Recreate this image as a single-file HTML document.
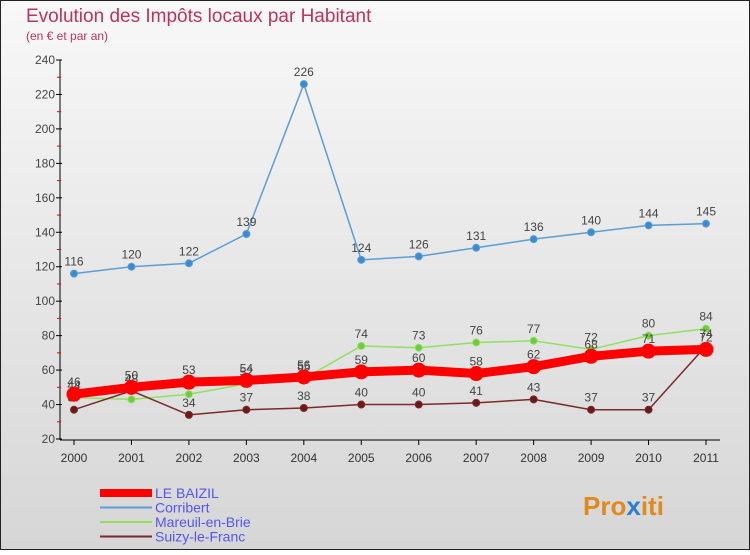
<!DOCTYPE html>
<html><head><meta charset="utf-8"><style>
body{margin:0;width:750px;height:550px;overflow:hidden;font-family:"Liberation Sans",sans-serif}
</style></head><body>
<svg width="750" height="550" xmlns="http://www.w3.org/2000/svg">
<defs><linearGradient id="bg" x1="0" y1="0" x2="0" y2="1"><stop offset="0" stop-color="#f8f8f8"/><stop offset="1" stop-color="#d6d6d6"/></linearGradient></defs>
<rect x="0.5" y="0.5" width="749" height="549" fill="url(#bg)" stroke="#222"/>
<text x="26" y="22" font-size="19" fill="#c0325a">Evolution des Impôts locaux par Habitant</text>
<text x="26" y="40" font-size="12" fill="#c0325a">(en € et par an)</text>
<g id="axes"></g><g id="series"></g><g id="legend"></g>
<text x="583" y="515" font-size="26" font-weight="bold" fill="#e08a1e">Pro<tspan fill="#2a7fd4">x</tspan>iti</text>
</svg>
<script>
const years=[2000,2001,2002,2003,2004,2005,2006,2007,2008,2009,2010,2011];
const yTicks=[20,40,60,80,100,120,140,160,180,200,220,240];
const baizil=[46,50,53,54,56,59,60,58,62,68,71,72];
const corribert=[116,120,122,139,226,124,126,131,136,140,144,145];
const mareuil=[44,43,46,52,55,74,73,76,77,72,80,84];
const suizy=[37,48,34,37,38,40,40,41,43,37,37,74];
const NS="http://www.w3.org/2000/svg";
const X=i=>74+i*(706-74)/11;
const Y=v=>439-(v-20)*(439-60)/220;
function mk(t,a,p){const e=document.createElementNS(NS,t);for(const k in a)e.setAttribute(k,a[k]);(p||document.getElementById('axes')).appendChild(e);return e;}
const ax=document.getElementById('axes');
let l=mk('line',{x1:60,y1:60,x2:60,y2:440,stroke:'#000'});


l=mk('line',{x1:60,y1:440,x2:720,y2:440,stroke:'#000'});


yTicks.forEach((v,i)=>{
 mk('line',{x1:56,y1:Y(v),x2:62,y2:Y(v),stroke:'#000'});
 if(i<yTicks.length-1)mk('line',{x1:57,y1:Y(v+10),x2:61,y2:Y(v+10),stroke:'#e00'});
 const t=mk('text',{x:55,y:Y(v)+4,'font-size':12,fill:'#444','text-anchor':'end'});t.textContent=v;
 
 
});
years.forEach((yr,i)=>{
 mk('line',{x1:X(i),y1:440,x2:X(i),y2:445,stroke:'#000'});
 const t=mk('text',{x:X(i),y:462,'font-size':12,fill:'#333','text-anchor':'middle'});t.textContent=yr;
 
 
});
const S=document.getElementById('series');
function series(vals,color,w,r,name,ptc){
 const g=mk('g',{},S);
 
 
 mk('polyline',{points:vals.map((v,i)=>X(i)+','+Y(v)).join(' '),fill:'none',stroke:color,'stroke-width':w,'stroke-linejoin':'round'},g);
 vals.forEach((v,i)=>{
  const c=mk('circle',{cx:X(i),cy:Y(v),r:r,fill:ptc,stroke:color,'stroke-width':1},g);
  
  
  const t=mk('text',{x:X(i),y:Y(v)-8,'font-size':12,fill:'#444','text-anchor':'middle'},g);t.textContent=v;
  
  
 });
}
series(corribert,'#5a9ed6',1.5,3.5,'corribert-series','#3c8bd0');
series(mareuil,'#90e060',1.5,3.5,'mareuil-series','#6ccc3c');
series(suizy,'#7a2a2a',1.5,3.5,'suizy-series','#6a1a1a');
series(baizil,'#f00',9,7,'le-baizil-series','#f00');
const L=document.getElementById('legend');
const leg=[['LE BAIZIL','#f00',8],['Corribert','#5a9ed6',2],['Mareuil-en-Brie','#90e060',2],['Suizy-le-Franc','#7a2a2a',2]];
leg.forEach((d,i)=>{
 const y=493+i*14.5;
 const g=mk('g',{},L);
 
 
 mk('line',{x1:100,y1:y,x2:152,y2:y,stroke:d[1],'stroke-width':d[2]},g);
 const t=mk('text',{x:155,y:y+5,'font-size':14,fill:'#5555ee'},g);t.textContent=d[0];
});
</script>
</body></html>
